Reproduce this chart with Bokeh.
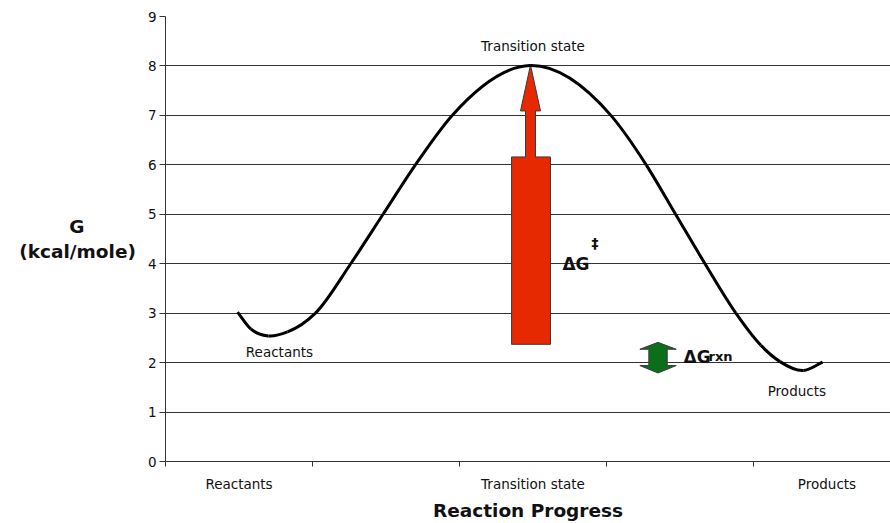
from bokeh.plotting import figure
from bokeh.models import Range1d, FixedTicker, Label
from bokeh.embed import file_html
from bokeh.resources import INLINE
from bokeh.core.properties import value

# ---- data ----
category_ticks = [0.5, 2.5, 4.5]
category_labels = ["Reactants", "Transition state", "Products"]
category_bounds = [0, 1, 2, 3, 4, 5]

curve_x = [0.49, 0.58, 0.70, 0.83, 1.02, 1.26, 1.48, 1.70, 1.95, 2.48,
           3.03, 3.27, 3.47, 3.67, 3.88, 4.05, 4.18, 4.34, 4.47]
curve_g = [3.02, 2.68, 2.54, 2.62, 3.00, 4.00, 5.00, 6.00, 7.00, 8.01,
           7.00, 6.00, 5.00, 4.00, 3.00, 2.35, 2.02, 1.84, 2.01]

# activation-energy arrow (red) outline
act_x = [2.354, 2.354, 2.449, 2.449, 2.415, 2.483, 2.551, 2.517, 2.517, 2.619, 2.619]
act_y = [2.37, 6.16, 6.16, 7.09, 7.09, 8.02, 7.09, 7.09, 6.16, 6.16, 2.37]

# reaction free energy double arrow (green) outline
rxn_x = [3.35, 3.474, 3.413, 3.413, 3.474, 3.35, 3.227, 3.288, 3.288, 3.227]
rxn_y = [2.41, 2.27, 2.27, 1.94, 1.94, 1.79, 1.94, 1.94, 2.27, 2.27]

# point labels
pt_text = ["Transition state", "Reactants", "Products"]
pt_x = [2.5, 0.775, 4.295]
pt_y = [8.41, 2.22, 1.42]

FONT = "DejaVu Sans"
INK = "#111111"

p = figure(width=890, height=523, output_backend="svg", toolbar_location=None,
           x_range=Range1d(0, 4.932), y_range=Range1d(0, 9),
           min_border_left=165, min_border_right=0, min_border_top=16, min_border_bottom=60)
p.outline_line_color = None
p.background_fill_color = "white"
p.border_fill_color = "white"

# x axis
xa = p.xaxis[0]
xa.ticker = FixedTicker(ticks=category_ticks, minor_ticks=category_bounds)
xa.major_label_overrides = {t: l for t, l in zip(category_ticks, category_labels)}
xa.major_tick_out = 0
xa.major_tick_in = 0
xa.minor_tick_out = 5
xa.minor_tick_in = 0
xa.minor_tick_line_color = "#333333"
xa.axis_line_color = "#333333"
xa.major_label_text_font = FONT
xa.major_label_text_font_size = "13.5px"
xa.major_label_text_color = INK
xa.major_label_standoff = 9
xa.axis_label = "Reaction Progress"
xa.axis_label_text_font = FONT
xa.axis_label_text_font_size = "18.5px"
xa.axis_label_text_font_style = "bold"
xa.axis_label_text_color = INK
xa.axis_label_standoff = 5

# y axis
ya = p.yaxis[0]
ya.ticker = FixedTicker(ticks=list(range(0, 10)))
ya.major_tick_out = 6
ya.major_tick_in = 0
ya.minor_tick_line_color = None
ya.axis_line_color = "#333333"
ya.major_tick_line_color = "#333333"
ya.major_label_text_font = FONT
ya.major_label_text_font_size = "13.5px"
ya.major_label_text_color = INK
ya.major_label_standoff = 3

horizontal_ok = False
try:
    ya.axis_label_orientation = "horizontal"
    horizontal_ok = True
except Exception:
    horizontal_ok = False

if horizontal_ok:
    # non-breaking spaces keep the short first line centred over the second
    ya.axis_label = "G" + "\u00a0" * 8 + "\n(kcal/mole)"
    ya.axis_label_text_font = FONT
    ya.axis_label_text_font_size = "18.5px"
    ya.axis_label_text_font_style = "bold"
    ya.axis_label_text_color = INK
    ya.axis_label_standoff = 9
else:
    p.add_layout(Label(x=-91, y=233, x_units="screen", y_units="screen", text="G",
                       text_font=FONT, text_font_size="18px", text_font_style="bold",
                       text_align="center", text_baseline="middle", text_color=INK))
    p.add_layout(Label(x=-87, y=208, x_units="screen", y_units="screen", text="(kcal/mole)",
                       text_font=FONT, text_font_size="18px", text_font_style="bold",
                       text_align="center", text_baseline="middle", text_color=INK))

p.xgrid.grid_line_color = None
p.ygrid.grid_line_color = "#333333"
p.ygrid.grid_line_width = 1
p.ygrid.ticker = FixedTicker(ticks=list(range(0, 10)))

# arrows
p.patch(act_x, act_y, fill_color="#E62900", line_color="#3a3a3a", line_width=1)
p.patch(rxn_x, rxn_y, fill_color="#0B6E1B", line_color="#3a3a3a", line_width=1)

# smoothed curve: cubic Hermite (as Bezier segments) through the read points
n = len(curve_x)
slopes = []
for i in range(n):
    if i == 0:
        slopes.append((curve_g[1] - curve_g[0]) / (curve_x[1] - curve_x[0]))
    elif i == n - 1:
        slopes.append((curve_g[-1] - curve_g[-2]) / (curve_x[-1] - curve_x[-2]))
    else:
        h0 = curve_x[i] - curve_x[i - 1]
        h1 = curve_x[i + 1] - curve_x[i]
        d0 = (curve_g[i] - curve_g[i - 1]) / h0
        d1 = (curve_g[i + 1] - curve_g[i]) / h1
        slopes.append((d0 * h1 + d1 * h0) / (h0 + h1))
x0, y0, x1, y1, cx0, cy0, cx1, cy1 = [], [], [], [], [], [], [], []
for i in range(n - 1):
    h = curve_x[i + 1] - curve_x[i]
    x0.append(curve_x[i]); y0.append(curve_g[i])
    x1.append(curve_x[i + 1]); y1.append(curve_g[i + 1])
    cx0.append(curve_x[i] + h / 3.0); cy0.append(curve_g[i] + slopes[i] * h / 3.0)
    cx1.append(curve_x[i + 1] - h / 3.0); cy1.append(curve_g[i + 1] - slopes[i + 1] * h / 3.0)
p.bezier(x0=x0, y0=y0, x1=x1, y1=y1, cx0=cx0, cy0=cy0, cx1=cx1, cy1=cy1,
         line_color="black", line_width=3)

# point labels
p.text(pt_x, pt_y, text=pt_text, text_font=value(FONT), text_font_size="13.5px",
       text_align="center", text_baseline="middle", text_color=INK)

# delta G double-dagger
p.text([2.70], [3.99], text=["ΔG"], text_font=value(FONT), text_font_size="17px",
       text_font_style="bold", text_align="left", text_baseline="alphabetic", text_color=INK)
p.text([2.70], [3.99], text=["‡"], text_font=value(FONT), text_font_size="14px",
       text_font_style="bold", text_align="left", text_baseline="middle", text_color=INK,
       x_offset=29, y_offset=-21)

# delta G rxn
p.text([3.524], [2.12], text=["ΔG"], text_font=value(FONT), text_font_size="17px",
       text_font_style="bold", text_align="left", text_baseline="alphabetic", text_color=INK)
p.text([3.524], [2.12], text=["rxn"], text_font=value(FONT), text_font_size="13px",
       text_font_style="bold", text_align="left", text_baseline="alphabetic", text_color=INK,
       x_offset=25)

open("out.html", "w").write(file_html(p, INLINE))
